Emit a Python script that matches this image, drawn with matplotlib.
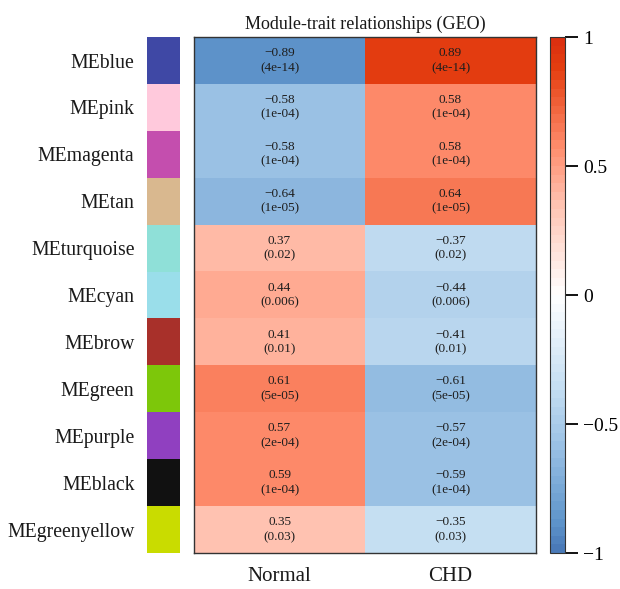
import matplotlib
matplotlib.use("Agg")
import matplotlib.pyplot as plt
import numpy as np
from matplotlib.colors import LinearSegmentedColormap, Normalize
from matplotlib.cm import ScalarMappable

plt.rcParams.update({
    "font.family": ["Liberation Serif", "DejaVu Serif"],
    "font.size": 11,
})

modules = ["MEblue", "MEpink", "MEmagenta", "MEtan", "MEturquoise", "MEcyan",
           "MEbrow", "MEgreen", "MEpurple", "MEblack", "MEgreenyellow"]
module_colors = ["#3f48a5", "#ffc9dc", "#c44eae", "#d9b88f", "#8fe0d8", "#9adeea",
                 "#a8302a", "#7dc70a", "#9040c0", "#111111", "#c9dc00"]
traits = ["Normal", "CHD"]
normal_cor = [-0.89, -0.58, -0.58, -0.64, 0.37, 0.44, 0.41, 0.61, 0.57, 0.59, 0.35]
chd_cor = [0.89, 0.58, 0.58, 0.64, -0.37, -0.44, -0.41, -0.61, -0.57, -0.59, -0.35]
pvals = ["4e-14", "1e-04", "1e-04", "1e-05", "0.02", "0.006",
         "0.01", "5e-05", "2e-04", "1e-04", "0.03"]

# blue-white-red scale
stops = [(0.0, "#4a7ab8"), (0.055, "#5f95cb"), (0.21, "#9dc3e6"), (0.325, "#c7e0f3"),
         (0.5, "#ffffff"), (0.675, "#ffc4b3"), (0.79, "#ff8d6d"), (0.945, "#e43e10"),
         (1.0, "#dc3010")]
cmap = LinearSegmentedColormap.from_list("bwr_wgcna", stops, N=60)
norm = Normalize(vmin=-1, vmax=1)

cor = np.column_stack([normal_cor, chd_cor])
n = len(modules)

fig = plt.figure(figsize=(6.2, 5.89), dpi=100)
fig.patch.set_facecolor("white")

# module colour strip
ax_strip = fig.add_axes([0.237, 0.0611, 0.053, 0.876])
for i, c in enumerate(module_colors):
    ax_strip.add_patch(plt.Rectangle((0, i), 1, 1, color=c, lw=0))
ax_strip.set_xlim(0, 1)
ax_strip.set_ylim(n, 0)
ax_strip.set_xticks([])
ax_strip.set_yticks(np.arange(n) + 0.5)
ax_strip.set_yticklabels(modules, fontsize=14.2, color="#1a1a1a")
ax_strip.tick_params(axis="y", length=0, pad=9)
for s in ax_strip.spines.values():
    s.set_visible(False)

# heatmap
ax = fig.add_axes([0.313, 0.0611, 0.5516, 0.876])
ax.imshow(cor, cmap=cmap, norm=norm, aspect="auto",
          extent=(0, 2, n, 0), interpolation="nearest")
for i in range(n):
    for j in range(2):
        ax.text(j + 0.5, i + 0.5, f"{cor[i, j]:.2f}\n({pvals[i]})".replace("-0.", "\u22120."),
                ha="center", va="center", fontsize=9.5, linespacing=1.3, color="#1e1e1e")
ax.set_xlim(0, 2)
ax.set_ylim(n, 0)
ax.set_yticks([])
ax.set_xticks([0.5, 1.5])
ax.set_xticklabels(traits, fontsize=15, color="#1a1a1a")
ax.tick_params(axis="x", length=0, pad=10)
for s in ax.spines.values():
    s.set_color("#333333")
    s.set_linewidth(1.0)
ax.set_title("Module-trait relationships (GEO)", fontsize=13, pad=6, color="#1a1a1a")

# colour bar
cax = fig.add_axes([0.887, 0.0611, 0.024, 0.876])
cb = fig.colorbar(ScalarMappable(norm=norm, cmap=cmap), cax=cax)
cb.set_ticks([-1, -0.5, 0, 0.5, 1])
cb.set_ticklabels(["\u22121", "\u22120.5", "0", "0.5", "1"])
cb.ax.tick_params(length=9, width=1.4, labelsize=14, pad=4, color="#111111")
cb.outline.set_edgecolor("#333333")
cb.outline.set_linewidth(0.8)

fig.savefig("out.png", dpi=100, facecolor="white")
